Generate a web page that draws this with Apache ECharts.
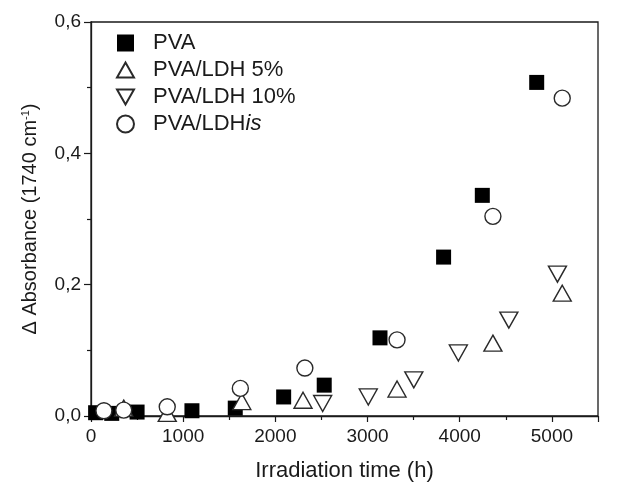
<!DOCTYPE html>
<html>
<head>
<meta charset="utf-8">
<script src="https://cdn.jsdelivr.net/npm/echarts@6/dist/echarts.min.js"></script>
<style>
html,body{margin:0;padding:0;background:#fff;}
#chart{width:623px;height:489px;}
</style>
</head>
<body>
<div id="chart"></div>
<script>
// Data: [irradiation time (h), delta absorbance]
const seriesNames = ['PVA', 'PVA/LDH 5%', 'PVA/LDH 10%', 'PVA/LDHis'];
const pvaData = [[50, 0.005], [225, 0.004], [500, 0.006], [1095, 0.008], [1565, 0.012], [2090, 0.029], [2530, 0.047], [3135, 0.119], [3825, 0.242], [4245, 0.336], [4835, 0.508]];
const ldh5Data = [[355, 0.012], [827, 0.004], [1636, 0.022], [2300, 0.024], [3320, 0.041], [4360, 0.111], [5112, 0.187]];
const ldh10Data = [[2513, 0.019], [3008, 0.029], [3502, 0.055], [3985, 0.096], [4533, 0.146], [5060, 0.216]];
const ldhIsData = [[140, 0.008], [355, 0.009], [827, 0.014], [1620, 0.042], [2320, 0.073], [3320, 0.116], [4360, 0.304], [5112, 0.484]];
const xTicks = { min: 0, max: 5500, interval: 1000 };
const yTicks = { min: 0, max: 0.6, interval: 0.2 };

const FONT = '"Liberation Sans", Arial, sans-serif';
const INK = '#1a1a1a';
const chart = echarts.init(document.getElementById('chart'), null, { renderer: 'canvas' });

const openStyle = { color: '#ffffff', borderColor: '#2a2a2a', borderWidth: 1.4, opacity: 1 };
const downTri = 'path://M0,0 L18,0 L9,16 Z';
const upTri = 'path://M9,0 L18,16 L0,16 Z';

chart.setOption({
  animation: false,
  backgroundColor: '#ffffff',
  grid: { left: 91, right: 25, top: 22, bottom: 73, show: true, borderColor: INK, borderWidth: 1.3, backgroundColor: 'transparent' },
  legend: {
    orient: 'vertical',
    left: 111,
    top: 27,
    itemWidth: 17,
    itemHeight: 17,
    itemGap: 5,
    textStyle: {
      fontFamily: FONT, fontSize: 22, color: INK, padding: [0, 0, 0, 14],
      rich: {
        n: { fontFamily: FONT, fontSize: 22, color: INK },
        i: { fontFamily: FONT, fontSize: 22, color: INK, fontStyle: 'italic' }
      }
    },
    formatter: function (name) {
      if (name === 'PVA/LDHis') return '{n|PVA/LDH}{i|is}';
      return '{n|' + name + '}';
    },
    data: [
      { name: seriesNames[0], icon: 'path://M0,0 L15,0 L15,15 L0,15 Z' },
      { name: seriesNames[1], icon: upTri },
      { name: seriesNames[2], icon: downTri },
      { name: seriesNames[3], icon: 'circle' }
    ]
  },
  xAxis: {
    type: 'value',
    min: xTicks.min, max: xTicks.max, interval: xTicks.interval,
    name: 'Irradiation time (h)',
    nameLocation: 'middle',
    nameGap: 44,
    nameTextStyle: { fontFamily: FONT, fontSize: 22, color: INK },
    axisLine: { show: true, onZero: false, lineStyle: { color: INK, width: 1.3 } },
    axisTick: { show: true, inside: false, length: 6, lineStyle: { color: INK, width: 1.2 } },
    minorTick: { show: true, splitNumber: 2, length: 4, lineStyle: { color: INK, width: 1.2 } },
    splitLine: { show: false },
    axisLabel: { fontFamily: FONT, fontSize: 19, color: INK, margin: 11, showMaxLabel: false,
      formatter: function (v) { return v % 1000 === 0 ? String(v) : ''; } }
  },
  yAxis: {
    type: 'value',
    min: yTicks.min, max: yTicks.max, interval: yTicks.interval,
    name: '{n|Δ Absorbance (1740 cm}{s|-1}{n|)}',
    nameLocation: 'middle',
    nameGap: 50,
    nameRotate: 90,
    nameTextStyle: {
      fontFamily: FONT, fontSize: 20, color: INK,
      rich: {
        n: { fontFamily: FONT, fontSize: 20, color: INK },
        s: { fontFamily: FONT, fontSize: 11, color: INK, verticalAlign: 'top', padding: [0, 0, 10, 0] }
      }
    },
    axisLine: { show: true, onZero: false, lineStyle: { color: INK, width: 1.3 } },
    axisTick: { show: true, inside: false, length: 7, lineStyle: { color: INK, width: 1.2 } },
    minorTick: { show: true, splitNumber: 2, length: 4, lineStyle: { color: INK, width: 1.2 } },
    splitLine: { show: false },
    axisLabel: { fontFamily: FONT, fontSize: 19, color: INK, margin: 10,
      formatter: function (v) { return v.toFixed(1).replace('.', ','); } }
  },
  series: [
    { name: seriesNames[0], type: 'scatter', data: pvaData, symbol: 'rect', symbolSize: 15,
      itemStyle: { color: '#000000', borderColor: '#000000', borderWidth: 0, opacity: 1 } },
    { name: seriesNames[1], type: 'scatter', data: ldh5Data, symbol: 'triangle', symbolSize: [18, 16],
      itemStyle: openStyle },
    { name: seriesNames[2], type: 'scatter', data: ldh10Data, symbol: 'triangle', symbolRotate: 180, symbolSize: [18, 16],
      itemStyle: openStyle },
    { name: seriesNames[3], type: 'scatter', data: ldhIsData, symbol: 'circle', symbolSize: 16,
      itemStyle: openStyle }
  ]
});
</script>
</body>
</html>
